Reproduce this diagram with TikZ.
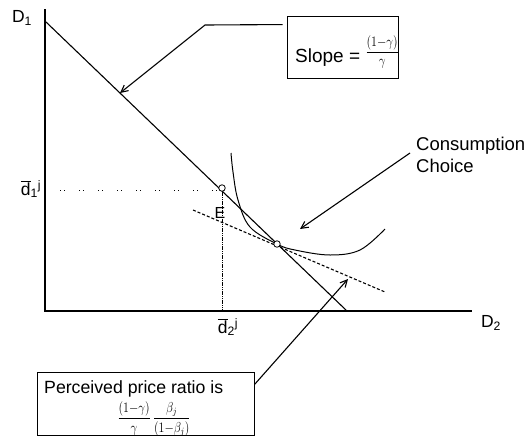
\documentclass[tikz,border=0pt]{standalone}
\usepackage{graphicx}
\usepackage{fontspec}
\setmainfont{Liberation Sans}
\usetikzlibrary{arrows.meta}
\newcommand{\tallfrac}[1]{\scalebox{1}[1.2]{\fontsize{12}{14}\selectfont$\displaystyle #1$}}
\begin{document}
\begin{tikzpicture}[x=1pt,y=-1pt,
  ax/.style={line width=1.3pt},
  ln/.style={line width=1.1pt},
  callout/.style={line width=1.1pt,-{Straight Barb[length=7pt,width=7pt]}},
  big/.style={font=\fontsize{18.5}{22}\selectfont},
  mid/.style={font=\fontsize{17.5}{20}\selectfont},
  ptmark/.style={circle,draw,fill=white,inner sep=0pt,minimum size=6.5pt,line width=0.8pt},
  boxstyle/.style={draw,line width=0.9pt,inner sep=0pt}]
\useasboundingbox (0,0) rectangle (527,437);
% axes
\coordinate (O) at (45,311);
\coordinate (Ytop) at (45,9);
\coordinate (Xend) at (472,311);
\draw[ax] (Ytop) -- (O) -- (Xend);
\node[mid] (D1) at (22,18) {D\textsubscript{1}};
\node[mid] (D2) at (491,323) {D\textsubscript{2}};
% budget line
\coordinate (B1) at (46,22);
\coordinate (B2) at (347,311);
\draw[ln] (B1) -- (B2);
% endowment point
\node[ptmark] (pt) at (222,188) {};
\coordinate (h0) at (60,190);
\draw[line width=0.9pt,dash pattern=on 1pt off 3pt on 1pt off 14pt] (h0) -- (pt.west |- h0);
\draw[line width=0.8pt,dash pattern=on 1.2pt off 0.6pt] (pt.south) -- (pt.south |- O);
\node[mid] (d1) at (31,189) {$\overline{\hbox{d}}$\textsubscript{1}\textsuperscript{j}};
\node[mid] (d2) at (228,327) {$\overline{\hbox{d}}$\textsubscript{2}\textsuperscript{j}};
\node[font=\fontsize{16}{18}\selectfont,inner sep=0pt] (E) at (220,213) {E};
% perceived budget line (dashed)
\coordinate (dA) at (193,210);
\coordinate (dB) at (385,292);
\draw[line width=1.1pt,dash pattern=on 3pt off 2pt] (dA) -- (dB);
% indifference curve
\draw[line width=1pt] plot[smooth,tension=0.6] coordinates {(231,153) (233,172) (238,200) (250,227) (277,244) (295,250) (330,255) (360,250) (385,229)};
\node[ptmark] (tg) at (277,244) {};
% slope box
\node[boxstyle,minimum width=111pt,minimum height=62pt] (slope) at (342.5,47) {};
\node[font=\fontsize{19}{22}\selectfont,anchor=base west,inner sep=0pt] (slopetext) at (295,62)
  {Slope = \raisebox{6pt}{\tallfrac{\frac{(1{-}\gamma)}{\gamma}}}};
\coordinate (k1) at (205,25);
\coordinate (s1) at (120,93);
\draw[callout] ([xshift=-4pt,yshift=-9pt]slope.north west) -- (k1) -- (s1);
% consumption choice
\node[big,anchor=north west,align=left,inner sep=0pt] (cc) at (416,137) {Consumption\\Choice};
\coordinate (cc0) at (410,153);
\coordinate (cc1) at (300,229);
\draw[callout] (cc0) -- (cc1);
% perceived price ratio box
\node[boxstyle,minimum width=217pt,minimum height=63pt] (pbox) at (145.5,403.5) {};
\node[font=\fontsize{17.7}{21}\selectfont,anchor=west,inner sep=0pt] (ptext) at (44,389) {Perceived price ratio is};
\node[inner sep=0pt] (pfrac) at (154,419) {\tallfrac{\frac{(1{-}\gamma)}{\gamma}\,\frac{\beta_j}{(1{-}\beta_j)}}};
\coordinate (pr1) at (348,279);
\draw[callout] ([yshift=-13pt]pbox.north east) -- (pr1);
\end{tikzpicture}
\end{document}
